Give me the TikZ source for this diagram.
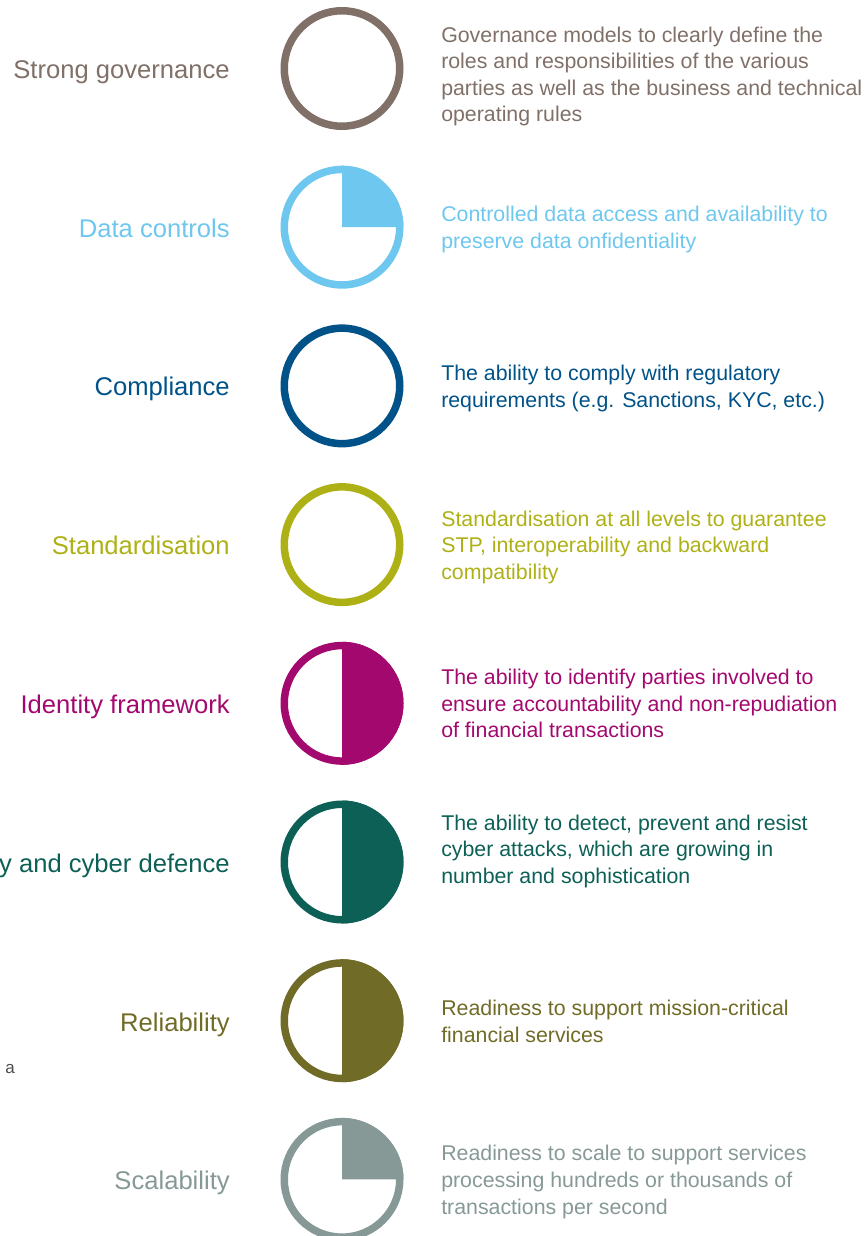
\documentclass[tikz,border=0pt]{standalone}
\usepackage{fontspec}
\setmainfont{Liberation Sans}
\definecolor{govc}{RGB}{128,112,104}
\definecolor{datac}{RGB}{110,199,238}
\definecolor{compc}{RGB}{0,82,136}
\definecolor{stdc}{RGB}{174,177,22}
\definecolor{idc}{RGB}{163,8,110}
\definecolor{secc}{RGB}{12,96,86}
\definecolor{relc}{RGB}{112,107,38}
\definecolor{scalc}{RGB}{134,153,150}
\begin{document}
\begin{tikzpicture}[
  x=0.75pt, y=-0.75pt,
  ring/.style={circle, draw=#1, line width=5.625pt, minimum size=86.625pt, inner sep=0pt},
  item/.style={anchor=base east, inner sep=0pt, text=#1, font=\fontsize{19.2}{24}\selectfont},
  note/.style={anchor=base west, inner sep=0pt, align=left, text=#1, font=\fontsize{16}{19.95}\selectfont}
]
\useasboundingbox (0,0) rectangle (866,1236);
\clip (0,0) rectangle (866,1236);

\node[ring=govc] (ring_gov) at (342,68.5) {};
\node[ring=datac] (ring_data) at (342,227.2) {};
\node[ring=compc] (ring_comp) at (342,385.9) {};
\node[ring=stdc] (ring_std) at (342,544.6) {};
\node[ring=idc] (ring_id) at (342,703.3) {};
\node[ring=secc] (ring_sec) at (342,862) {};
\node[ring=relc] (ring_rel) at (342,1020.7) {};
\node[ring=scalc] (ring_scal) at (342,1179.4) {};

% filled parts
\fill[datac] (ring_data.center) -- ++(0,-61.5) arc[start angle=90, end angle=0, radius=46.125pt] -- cycle;
\fill[idc] (ring_id.center) -- ++(0,-61.5) arc[start angle=90, end angle=-90, radius=46.125pt] -- cycle;
\fill[secc] (ring_sec.center) -- ++(0,-61.5) arc[start angle=90, end angle=-90, radius=46.125pt] -- cycle;
\fill[relc] (ring_rel.center) -- ++(0,-61.5) arc[start angle=90, end angle=-90, radius=46.125pt] -- cycle;
\fill[scalc] (ring_scal.center) -- ++(0,-61.5) arc[start angle=90, end angle=0, radius=46.125pt] -- cycle;

\node[item=govc] (name_gov) at (230,78.5) {Strong governance};
\node[item=datac] (name_data) at (230,237.2) {Data controls};
\node[item=compc] (name_comp) at (230,395.9) {Compliance};
\node[item=stdc] (name_std) at (230,554.6) {Standardisation};
\node[item=idc] (name_id) at (230,713.3) {Identity framework};
\node[item=secc] (name_sec) at (230,872) {y and cyber defence};
\node[item=relc] (name_rel) at (230,1031.7) {Reliability};
\node[item=scalc] (name_scal) at (230,1189.4) {Scalability};

% base = last line
\node[note=govc] (desc_gov) at (441,121.8) {Governance models to clearly define the\\roles and responsibilities of the various\\parties as well as the business and technical\\operating rules};
\node[note=datac] (desc_data) at (441,248.3) {Controlled data access and availability to\\preserve data onfidentiality};
\node[note=compc] (desc_comp) at (441,407.2) {The ability to comply with regulatory\\requirements (e.g. Sanctions, KYC, etc.)};
\node[note=stdc] (desc_std) at (441,579.2) {Standardisation at all levels to guarantee\\STP, interoperability and backward\\compatibility};
\node[note=idc] (desc_id) at (441,737.9) {The ability to identify parties involved to\\ensure accountability and non-repudiation\\of financial transactions};
\node[note=secc] (desc_sec) at (441,883.2) {The ability to detect, prevent and resist\\cyber attacks, which are growing in\\number and sophistication};
\node[note=relc] (desc_rel) at (441,1042) {Readiness to support mission-critical\\financial services};
\node[note=scalc] (desc_scal) at (441,1214) {Readiness to scale to support services\\processing hundreds or thousands of\\transactions per second};

\node[anchor=base west, inner sep=0pt, text=black!70, font=\fontsize{12.75}{15}\selectfont] (mark_a) at (5,1073) {a};
\end{tikzpicture}
\end{document}
